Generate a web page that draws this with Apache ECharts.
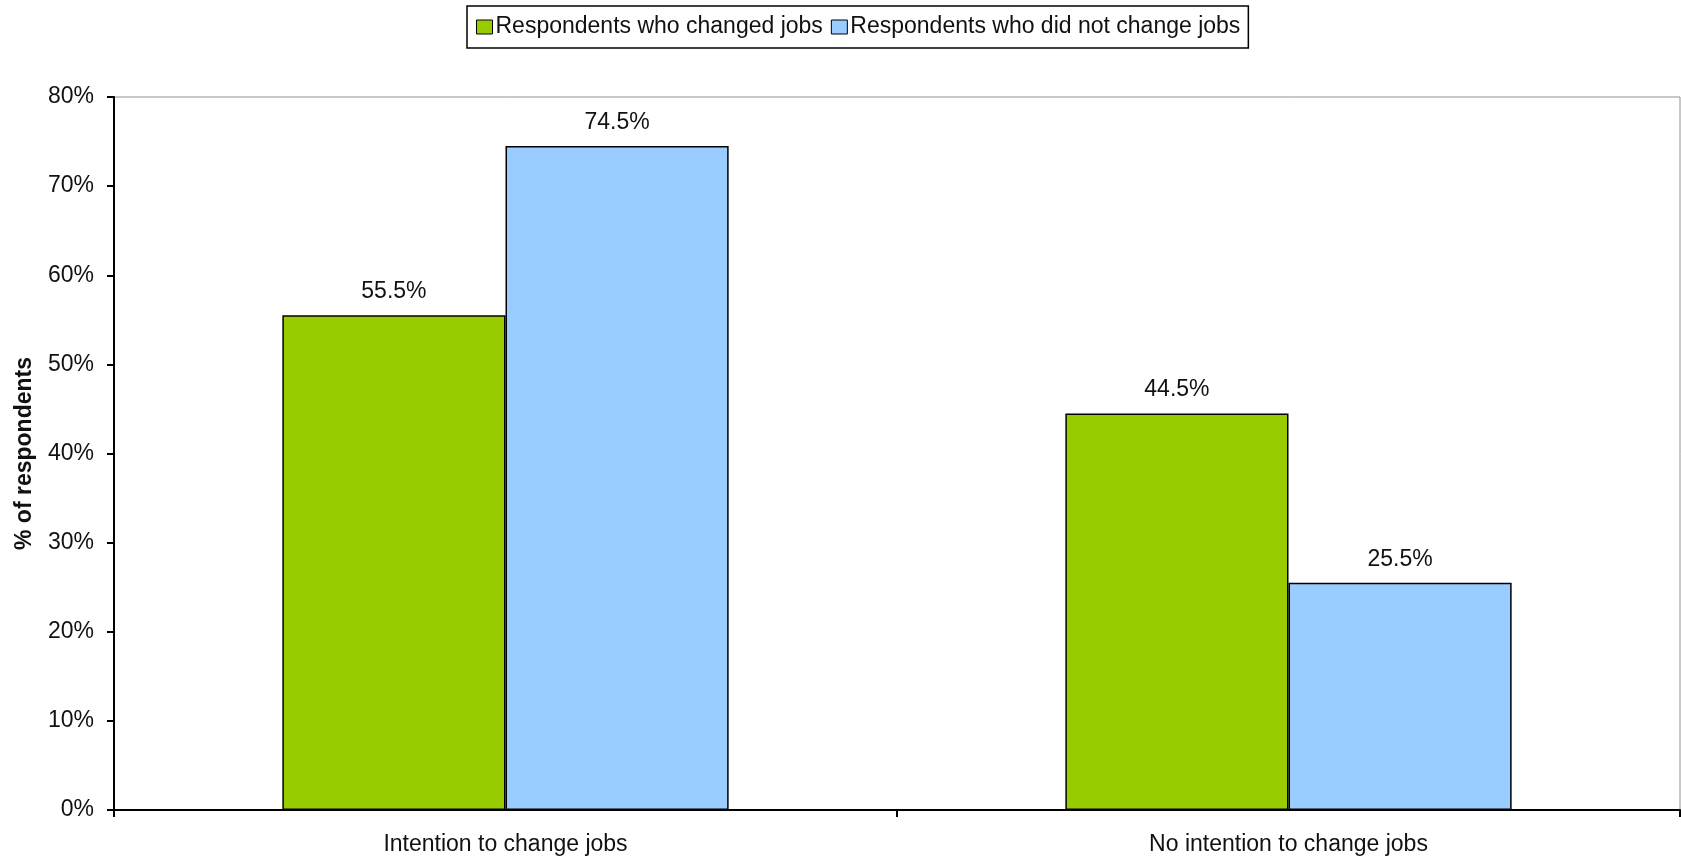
<!DOCTYPE html>
<html>
<head>
<meta charset="utf-8">
<script src="https://cdn.jsdelivr.net/npm/echarts@6/dist/echarts.min.js"></script>
<style>
  html, body { margin: 0; padding: 0; background: #fff; }
  #chart { width: 1681px; height: 858px; }
</style>
</head>
<body>
<div id="chart"></div>
<script>
// Share of respondents by job-change intention
const categories = ['Intention to change jobs', 'No intention to change jobs'];
const seriesNames = ['Respondents who changed jobs', 'Respondents who did not change jobs'];
const changedJobs = [55.5, 44.5];
const didNotChange = [74.5, 25.5];
const yTicks = { min: 0, max: 80, interval: 10 };
const yTitle = '% of respondents';

const FONT = '"Liberation Sans", Arial, sans-serif';
const TEXT = '#111';

const chart = echarts.init(document.getElementById('chart'), null, { renderer: 'canvas' });

const labelStyle = {
  show: true,
  position: 'top',
  distance: 12,
  formatter: p => p.value + '%',
  fontFamily: FONT,
  fontSize: 23,
  color: TEXT
};

chart.setOption({
  animation: false,
  backgroundColor: '#fff',
  textStyle: { fontFamily: FONT },
  legend: {
    left: 467,
    top: 6,
    orient: 'horizontal',
    padding: [9, 8, 9, 9],
    itemGap: 8,
    itemWidth: 16,
    itemHeight: 14,
    borderColor: '#000',
    borderWidth: 1.5,
    backgroundColor: '#fff',
    icon: 'rect',
    itemStyle: { borderColor: '#000', borderWidth: 1 },
    textStyle: { fontFamily: FONT, fontSize: 23, color: TEXT, lineHeight: 24, padding: [0, 0, 0, -2] },
    data: seriesNames
  },
  grid: {
    left: 114,
    right: 1,
    top: 97,
    bottom: 48,
    show: true,
    borderColor: '#909090',
    borderWidth: 1,
    containLabel: false
  },
  xAxis: {
    type: 'category',
    data: categories,
    boundaryGap: true,
    axisLine: { show: true, lineStyle: { color: '#000', width: 2 } },
    axisTick: { show: true, alignWithLabel: false, length: 7, lineStyle: { color: '#000', width: 2 } },
    axisLabel: { margin: 23, fontFamily: FONT, fontSize: 23, color: TEXT },
    splitLine: { show: false }
  },
  yAxis: {
    type: 'value',
    min: yTicks.min,
    max: yTicks.max,
    interval: yTicks.interval,
    name: yTitle,
    nameLocation: 'middle',
    nameRotate: 90,
    nameGap: 78,
    nameTextStyle: { fontFamily: FONT, fontSize: 23, fontWeight: 'bold', color: TEXT },
    axisLine: { show: true, lineStyle: { color: '#000', width: 2 } },
    axisTick: { show: true, inside: false, length: 7, lineStyle: { color: '#000', width: 2 } },
    axisLabel: { margin: 20, fontFamily: FONT, fontSize: 23, color: TEXT, formatter: '{value}%' },
    splitLine: { show: false }
  },
  series: [
    {
      name: seriesNames[0],
      type: 'bar',
      data: changedJobs,
      barGap: '0%',
      barCategoryGap: '43%',
      itemStyle: { color: '#99CC00', borderColor: '#000', borderWidth: 1.5 },
      label: labelStyle
    },
    {
      name: seriesNames[1],
      type: 'bar',
      data: didNotChange,
      barGap: '0%',
      barCategoryGap: '43%',
      itemStyle: { color: '#99CCFF', borderColor: '#000', borderWidth: 1.5 },
      label: labelStyle
    }
  ]
});
</script>
</body>
</html>
